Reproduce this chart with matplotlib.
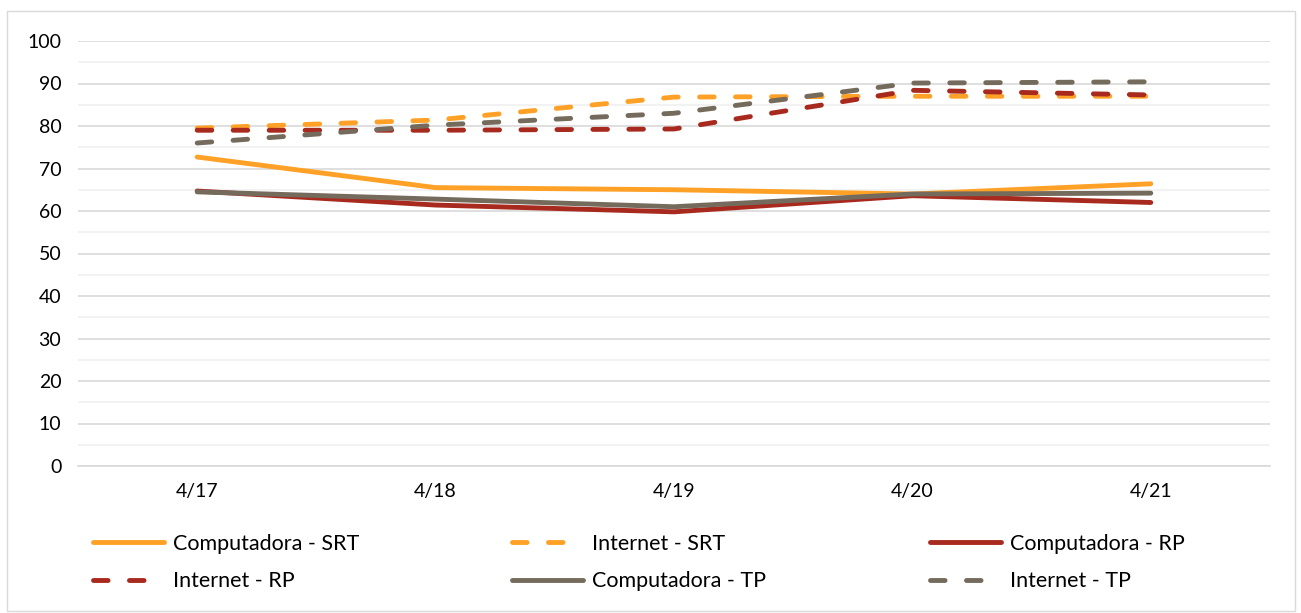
import numpy as np
import matplotlib
matplotlib.use("Agg")
import matplotlib.pyplot as plt
from matplotlib.patches import Rectangle

fechas = ['4/17', '4/18', '4/19', '4/20', '4/21']

comp_srt = [72.7, 65.5, 65.0, 64.0, 66.4]
inet_srt = [79.5, 81.4, 86.8, 87.0, 87.0]
comp_rp = [64.7, 61.4, 59.8, 63.6, 62.0]
inet_rp = [79.0, 79.0, 79.3, 88.4, 87.3]
comp_tp = [64.5, 62.8, 61.0, 64.0, 64.2]
inet_tp = [76.0, 80.2, 83.0, 90.1, 90.4]

naranja = '#FFA126'
rojo = '#A82A1E'
gris = '#756B5C'

plt.rcParams['font.family'] = ['Lato', 'DejaVu Sans']

W, H = 1301, 613
fig = plt.figure(figsize=(W/100, H/100), dpi=100)
ax = fig.add_axes([78/W, 1-466/H, (1270-78)/W, (466-41)/H])

fig.patches.append(Rectangle((7/W, 2/H), 1288/W, 600/H, transform=fig.transFigure,
                             fill=False, edgecolor='#D9D9D9', linewidth=1))

x = np.arange(len(fechas))
lw = 3.5
dash = (3.0, 4.4)

l1, = ax.plot(x, comp_srt, color=naranja, lw=lw, solid_capstyle='round', label='Computadora - SRT')
l2, = ax.plot(x, inet_srt, color=naranja, lw=lw, dashes=dash, dash_capstyle='round', label='Internet - SRT')
l3, = ax.plot(x, comp_rp, color=rojo, lw=lw, solid_capstyle='round', label='Computadora - RP')
l4, = ax.plot(x, inet_rp, color=rojo, lw=lw, dashes=dash, dash_capstyle='round', label='Internet - RP')
l5, = ax.plot(x, comp_tp, color=gris, lw=lw, solid_capstyle='round', label='Computadora - TP')
l6, = ax.plot(x, inet_tp, color=gris, lw=lw, dashes=dash, dash_capstyle='round', label='Internet - TP')

ax.set_xlim(-0.5, len(fechas) - 0.5)
ax.set_ylim(0, 100)
ax.set_yticks(np.arange(0, 101, 10))
ax.set_yticks(np.arange(5, 100, 10), minor=True)
ax.set_xticks(x)
ax.set_xticklabels(fechas)
ax.grid(axis='y', which='major', color='#D9D9D9', lw=1.2)
ax.grid(axis='y', which='minor', color='#F0F0F0', lw=1.2)
ax.set_axisbelow(True)
for s in ['top', 'right', 'left']:
    ax.spines[s].set_visible(False)
ax.spines['bottom'].set_color('#D9D9D9')
ax.spines['bottom'].set_linewidth(1.2)
ax.tick_params(axis='both', which='both', length=0, labelsize=14, colors='#000000')
ax.tick_params(axis='y', pad=12)
ax.tick_params(axis='x', pad=12)

# leyenda en tres columnas de igual ancho, como en Excel
columnas = [(l1, l4), (l2, l5), (l3, l6)]
xs = [93, 512, 930]
for xi, par in zip(xs, columnas):
    fig.legend(handles=list(par), labels=[h.get_label() for h in par],
               loc='upper left', bbox_to_anchor=(xi/W, 1-534/H),
               frameon=False, fontsize=15.5, handlelength=3.3, handletextpad=0.4,
               labelspacing=0.8, borderaxespad=0, borderpad=0)

fig.savefig('out.png', dpi=100)
